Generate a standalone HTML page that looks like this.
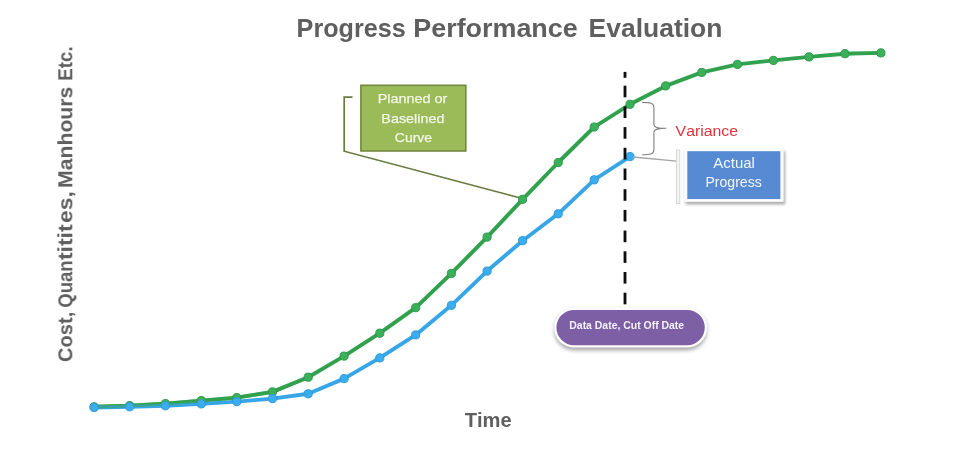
<!DOCTYPE html>
<html lang="en">
<head>
<meta charset="utf-8">
<title>Progress Performance Evaluation</title>
<style>
html,body{margin:0;padding:0;background:#fff;}
body{width:970px;height:454px;overflow:hidden;}
svg{display:block;font-family:"Liberation Sans",sans-serif;font-kerning:none;}
.b{font-weight:bold;}
</style>
</head>
<body>
<svg width="970" height="454" viewBox="0 0 970 454">
<defs>
<filter id="sh" x="-20%" y="-20%" width="140%" height="150%"><feGaussianBlur stdDeviation="1.6"/></filter>
<filter id="sh2" x="-20%" y="-40%" width="140%" height="180%"><feGaussianBlur stdDeviation="2"/></filter>
<filter id="soft" x="-5%" y="-5%" width="110%" height="110%"><feGaussianBlur stdDeviation="0.55"/></filter>
</defs>
<rect width="970" height="454" fill="#ffffff"/>
<g filter="url(#soft)">
<!-- title -->
<g class="b" font-size="25.9" fill="#5e5e5e">
<text x="296.62" y="36.5" textLength="109.12" lengthAdjust="spacingAndGlyphs">Progress</text>
<text x="413.30" y="36.5" textLength="164.42" lengthAdjust="spacingAndGlyphs">Performance</text>
<text x="588.53" y="36.5" textLength="133.91" lengthAdjust="spacingAndGlyphs">Evaluation</text>
</g>
<!-- y axis label -->
<g class="b" font-size="20.1" fill="#5e5e5e" transform="translate(72.3,0) rotate(-90)">
<text x="-361.92" y="0" textLength="50.17" lengthAdjust="spacingAndGlyphs">Cost,</text>
<text x="-307.76" y="0" textLength="47.41" lengthAdjust="spacingAndGlyphs">Quan</text>
<text x="-260.08" y="0" textLength="35.76" lengthAdjust="spacingAndGlyphs">titit</text>
<text x="-222.99" y="0" textLength="31.83" lengthAdjust="spacingAndGlyphs">es,</text>
<text x="-187.92" y="0" textLength="101.19" lengthAdjust="spacingAndGlyphs">Manhours</text>
<text x="-80.65" y="0" textLength="34.23" lengthAdjust="spacingAndGlyphs">Etc.</text>
</g>
<!-- x axis label -->
<text x="464.67" y="427" textLength="47.01" lengthAdjust="spacingAndGlyphs" fill="#5e5e5e" font-size="20.1" class="b">Time</text>

<!-- planned callout -->
<polyline points="352.5,97.1 344.2,97.1 344.2,151.2 519.5,197.8" fill="none" stroke="#697a40" stroke-width="1.7"/>
<rect x="360.9" y="85.3" width="104.9" height="65.7" fill="#9bbb59" stroke="#71893f" stroke-width="1.6"/>
<g font-size="13.3" fill="#f2f7e6" stroke="#f2f7e6" stroke-width="0.25">
<text x="377.72" y="103.3" textLength="69.52" lengthAdjust="spacingAndGlyphs">Planned or</text>
<text x="381.32" y="122.7" textLength="63.10" lengthAdjust="spacingAndGlyphs">Baselined</text>
<text x="394.89" y="141.8" textLength="37.13" lengthAdjust="spacingAndGlyphs">Curve</text>
</g>

<!-- curves -->
<polyline points="94.1,406.8 129.7,405.6 165.4,403.6 201.3,400.6 236.8,397.6 272.5,391.9 308.2,377.2 344.1,356.1 379.8,333.2 415.7,307.7 451.4,273.4 487.1,237.1 522.6,199.3 558.2,162.5 594.2,127.0 630.0,104.3 665.7,85.9 701.8,72.4 737.5,64.4 773.4,60.4 809.0,56.9 845.0,53.7 880.9,52.9" fill="none" stroke="#33a14e" stroke-width="3.9" stroke-linejoin="round" stroke-linecap="round"/>
<polyline points="94.1,407.5 129.7,406.8 165.4,405.8 201.3,403.9 236.8,401.6 272.5,398.6 308.2,393.8 344.1,378.6 379.8,357.9 415.7,334.9 451.4,305.3 487.1,271.1 522.6,240.7 558.2,213.8 594.2,179.8 630.0,156.6" fill="none" stroke="#37a6e6" stroke-width="3.9" stroke-linejoin="round" stroke-linecap="round"/>
<polyline points="94.1,406.8 129.7,405.6 165.4,403.6 201.3,400.6 236.8,397.6 272.5,391.9 308.2,377.2" fill="none" stroke="#33a14e" stroke-width="3.9" stroke-linejoin="round" stroke-linecap="round" opacity="0.5"/>
<circle cx="94.1" cy="406.8" r="4.1" fill="#3bb05a" stroke="#2f9a4a" stroke-width="1"/>
<circle cx="129.7" cy="405.6" r="4.1" fill="#3bb05a" stroke="#2f9a4a" stroke-width="1"/>
<circle cx="165.4" cy="403.6" r="4.1" fill="#3bb05a" stroke="#2f9a4a" stroke-width="1"/>
<circle cx="201.3" cy="400.6" r="4.1" fill="#3bb05a" stroke="#2f9a4a" stroke-width="1"/>
<circle cx="236.8" cy="397.6" r="4.1" fill="#3bb05a" stroke="#2f9a4a" stroke-width="1"/>
<circle cx="272.5" cy="391.9" r="4.1" fill="#3bb05a" stroke="#2f9a4a" stroke-width="1"/>
<circle cx="308.2" cy="377.2" r="4.1" fill="#3bb05a" stroke="#2f9a4a" stroke-width="1"/>
<circle cx="344.1" cy="356.1" r="4.1" fill="#3bb05a" stroke="#2f9a4a" stroke-width="1"/>
<circle cx="379.8" cy="333.2" r="4.1" fill="#3bb05a" stroke="#2f9a4a" stroke-width="1"/>
<circle cx="415.7" cy="307.7" r="4.1" fill="#3bb05a" stroke="#2f9a4a" stroke-width="1"/>
<circle cx="451.4" cy="273.4" r="4.1" fill="#3bb05a" stroke="#2f9a4a" stroke-width="1"/>
<circle cx="487.1" cy="237.1" r="4.1" fill="#3bb05a" stroke="#2f9a4a" stroke-width="1"/>
<circle cx="522.6" cy="199.3" r="4.1" fill="#3bb05a" stroke="#2f9a4a" stroke-width="1"/>
<circle cx="558.2" cy="162.5" r="4.1" fill="#3bb05a" stroke="#2f9a4a" stroke-width="1"/>
<circle cx="594.2" cy="127.0" r="4.1" fill="#3bb05a" stroke="#2f9a4a" stroke-width="1"/>
<circle cx="630.0" cy="104.3" r="4.1" fill="#3bb05a" stroke="#2f9a4a" stroke-width="1"/>
<circle cx="665.7" cy="85.9" r="4.1" fill="#3bb05a" stroke="#2f9a4a" stroke-width="1"/>
<circle cx="701.8" cy="72.4" r="4.1" fill="#3bb05a" stroke="#2f9a4a" stroke-width="1"/>
<circle cx="737.5" cy="64.4" r="4.1" fill="#3bb05a" stroke="#2f9a4a" stroke-width="1"/>
<circle cx="773.4" cy="60.4" r="4.1" fill="#3bb05a" stroke="#2f9a4a" stroke-width="1"/>
<circle cx="809.0" cy="56.9" r="4.1" fill="#3bb05a" stroke="#2f9a4a" stroke-width="1"/>
<circle cx="845.0" cy="53.7" r="4.1" fill="#3bb05a" stroke="#2f9a4a" stroke-width="1"/>
<circle cx="880.9" cy="52.9" r="4.1" fill="#3bb05a" stroke="#2f9a4a" stroke-width="1"/>
<circle cx="94.1" cy="407.5" r="4.1" fill="#39aeef" stroke="#3199d8" stroke-width="1"/>
<circle cx="129.7" cy="406.8" r="4.1" fill="#39aeef" stroke="#3199d8" stroke-width="1"/>
<circle cx="165.4" cy="405.8" r="4.1" fill="#39aeef" stroke="#3199d8" stroke-width="1"/>
<circle cx="201.3" cy="403.9" r="4.1" fill="#39aeef" stroke="#3199d8" stroke-width="1"/>
<circle cx="236.8" cy="401.6" r="4.1" fill="#39aeef" stroke="#3199d8" stroke-width="1"/>
<circle cx="272.5" cy="398.6" r="4.1" fill="#39aeef" stroke="#3199d8" stroke-width="1"/>
<circle cx="308.2" cy="393.8" r="4.1" fill="#39aeef" stroke="#3199d8" stroke-width="1"/>
<circle cx="344.1" cy="378.6" r="4.1" fill="#39aeef" stroke="#3199d8" stroke-width="1"/>
<circle cx="379.8" cy="357.9" r="4.1" fill="#39aeef" stroke="#3199d8" stroke-width="1"/>
<circle cx="415.7" cy="334.9" r="4.1" fill="#39aeef" stroke="#3199d8" stroke-width="1"/>
<circle cx="451.4" cy="305.3" r="4.1" fill="#39aeef" stroke="#3199d8" stroke-width="1"/>
<circle cx="487.1" cy="271.1" r="4.1" fill="#39aeef" stroke="#3199d8" stroke-width="1"/>
<circle cx="522.6" cy="240.7" r="4.1" fill="#39aeef" stroke="#3199d8" stroke-width="1"/>
<circle cx="558.2" cy="213.8" r="4.1" fill="#39aeef" stroke="#3199d8" stroke-width="1"/>
<circle cx="594.2" cy="179.8" r="4.1" fill="#39aeef" stroke="#3199d8" stroke-width="1"/>
<circle cx="630.0" cy="156.6" r="4.1" fill="#39aeef" stroke="#3199d8" stroke-width="1"/>

<!-- data date dashed line -->
<rect x="623.6" y="71.9" width="2.8" height="5.9" fill="#111"/>
<rect x="623.6" y="85.7" width="2.8" height="11.6" fill="#111"/>
<rect x="623.6" y="106.4" width="2.8" height="11.6" fill="#111"/>
<rect x="623.6" y="127.1" width="2.8" height="11.6" fill="#111"/>
<rect x="623.6" y="147.8" width="2.8" height="11.6" fill="#111"/>
<rect x="623.6" y="168.5" width="2.8" height="11.6" fill="#111"/>
<rect x="623.6" y="189.2" width="2.8" height="11.6" fill="#111"/>
<rect x="623.6" y="209.9" width="2.8" height="11.6" fill="#111"/>
<rect x="623.6" y="230.6" width="2.8" height="11.6" fill="#111"/>
<rect x="623.6" y="251.3" width="2.8" height="11.6" fill="#111"/>
<rect x="623.6" y="272.0" width="2.8" height="11.6" fill="#111"/>
<rect x="623.6" y="292.7" width="2.8" height="11.6" fill="#111"/>

<!-- variance brace -->
<path d="M642.1,102.4 C650,102.6 653.9,103 653.9,107.5 L653.9,124 C653.9,127.4 657,128.3 666.3,128.3 C657,128.3 653.9,129.4 653.9,132.6 L653.9,150 C653.9,154.4 650,154.6 642.1,154.8" fill="none" stroke="#808080" stroke-width="1.1"/>
<text x="675.63" y="136.1" textLength="62.47" lengthAdjust="spacingAndGlyphs" font-size="15.1" fill="#e0343c">Variance</text>

<!-- actual progress callout -->
<line x1="633" y1="157" x2="676.5" y2="161.2" stroke="#a6a6a6" stroke-width="1.3"/>
<rect x="676.4" y="150" width="3.4" height="53.6" fill="#f4f4f4" stroke="#d0d0d0" stroke-width="0.8"/>
<rect x="685.5" y="151" width="99.6" height="53.4" fill="#000" opacity="0.33" filter="url(#sh)"/>
<rect x="684.4" y="149" width="99.2" height="52.8" fill="#ffffff"/>
<rect x="687.3" y="151.2" width="93.1" height="47.9" fill="#568bd4"/>
<g font-size="14.2" fill="#f3f6fb">
<text x="713.27" y="168.4" textLength="41.63" lengthAdjust="spacingAndGlyphs">Actual</text>
<text x="705.45" y="186.6" textLength="56.26" lengthAdjust="spacingAndGlyphs">Progress</text>
</g>

<!-- data date pill -->
<rect x="554.6" y="310" width="152" height="40.2" rx="19.5" fill="#000" opacity="0.36" filter="url(#sh2)"/>
<rect x="554.2" y="307.8" width="152.8" height="39.8" rx="19.9" fill="#ffffff"/>
<rect x="556.4" y="309.9" width="148.4" height="35.4" rx="17.7" fill="#7c5fa5"/>
<text x="569.30" y="328.5" textLength="114.86" lengthAdjust="spacingAndGlyphs" class="b" font-size="10.6" fill="#f6f2fa">Data Date, Cut Off Date</text>
</g>
</svg>
</body>
</html>
